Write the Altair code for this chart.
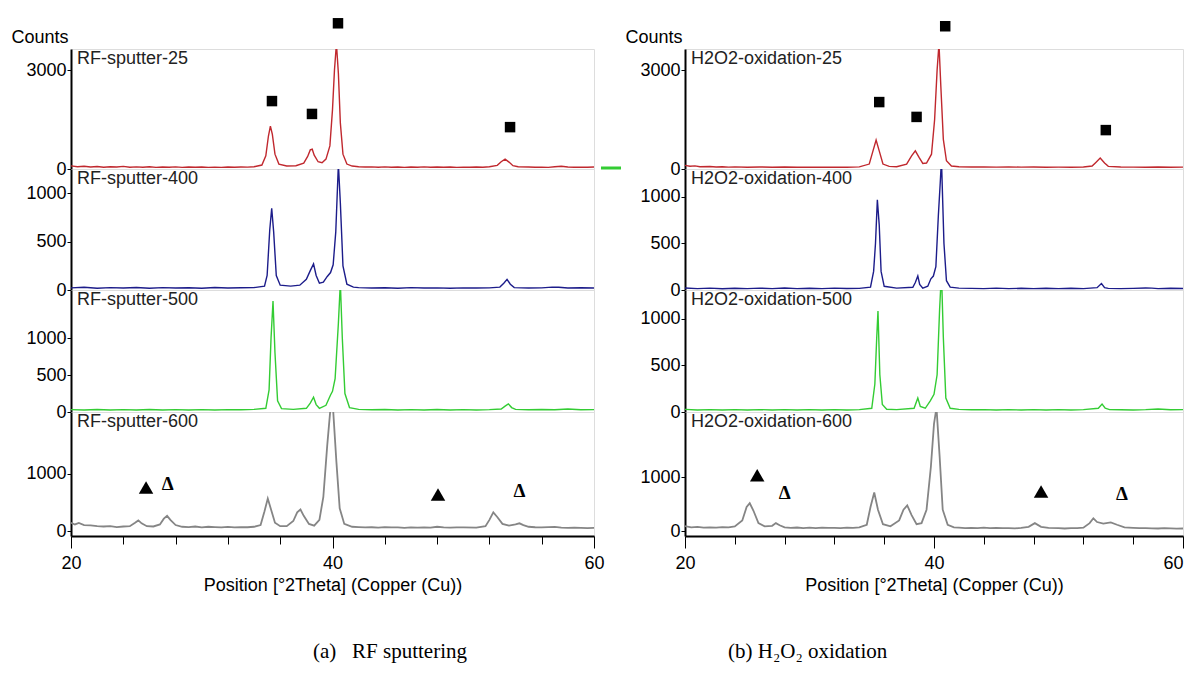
import altair as alt
import pandas as pd

# ---------------- data (x = 2Theta, y = counts) -------------
RF25 = [(20,95),(20.5,70),(21,85),(21.5,60),(22,75),(22.5,55),(23,70),(23.5,60),(24,80),(24.5,55),(25,65),(25.5,55),(26,70),(26.5,50),(27,60),(27.5,55),(28,65),(28.5,50),(29,60),(29.5,55),(30,60),(30.5,50),(31,58),(31.5,50),(32,60),(32.5,55),(33,60),(33.5,58),(34,70),(34.6,120),(34.9,400),(35.1,1000),(35.25,1300),(35.4,1050),(35.6,450),(35.9,150),(36.5,90),(37.2,100),(37.8,180),(38.1,380),(38.3,580),(38.45,600),(38.6,420),(38.9,220),(39.2,190),(39.5,300),(39.8,700),(40.0,1800),(40.15,3000),(40.3,3800),(40.45,2900),(40.6,1400),(40.8,450),(41.1,150),(41.5,90),(42,70),(42.5,60),(43,65),(43.5,55),(44,65),(44.5,55),(45,60),(45.5,50),(46,60),(46.5,55),(47,65),(47.5,55),(48,60),(48.5,55),(49,60),(49.5,50),(50,58),(50.5,52),(51,60),(51.5,55),(52,70),(52.6,110),(52.9,220),(53.2,300),(53.5,210),(53.8,100),(54.2,70),(55,60),(55.5,55),(56,58),(56.5,50),(57,70),(57.5,85),(58,60),(58.5,55),(59,58),(59.5,52),(60,60)]
RF400 = [(20,22),(21,28),(22,18),(23,25),(24,20),(25,26),(26,18),(27,25),(28,20),(29,24),(30,18),(31,26),(32,20),(33,24),(34,25),(34.8,40),(35.0,150),(35.2,620),(35.35,845),(35.5,600),(35.7,150),(36.0,50),(36.8,40),(37.5,50),(38.0,110),(38.3,200),(38.55,270),(38.75,150),(39.0,70),(39.3,80),(39.6,140),(39.85,180),(40.05,260),(40.25,600),(40.45,1300),(40.6,900),(40.8,250),(41.1,60),(41.6,30),(42,25),(43,20),(44,24),(45,18),(46,25),(47,20),(48,22),(49,18),(50,22),(51,20),(52,22),(52.8,30),(53.1,70),(53.35,110),(53.6,60),(53.9,25),(55,20),(56,22),(56.8,30),(57.3,28),(58,20),(59,24),(60,20)]
RF500 = [(20,32),(21,28),(22,34),(23,28),(24,32),(25,28),(26,33),(27,28),(28,32),(29,28),(30,32),(31,28),(32,32),(33,30),(34,35),(34.9,50),(35.15,300),(35.3,1000),(35.45,1500),(35.6,800),(35.8,150),(36.1,45),(37,35),(38.0,50),(38.3,120),(38.55,200),(38.75,100),(39.0,50),(39.5,90),(39.85,230),(40.0,280),(40.2,450),(40.45,1200),(40.6,1750),(40.75,1000),(40.95,250),(41.3,60),(42,35),(43,30),(44,34),(45,28),(46,32),(47,28),(48,33),(49,28),(50,32),(51,28),(52,32),(52.9,40),(53.2,80),(53.45,110),(53.7,60),(54,35),(55,30),(56,33),(57,30),(58,40),(59,30),(60,32)]
RF600 = [(20,150),(20.3,120),(20.6,145),(21,110),(21.5,105),(22,90),(22.5,85),(23,90),(23.5,75),(24,85),(24.5,90),(24.9,150),(25.15,190),(25.4,140),(25.8,90),(26.3,85),(26.8,120),(27.1,220),(27.35,270),(27.6,200),(28,110),(28.5,80),(29,75),(29.5,85),(30,70),(30.5,80),(31,75),(31.5,70),(32,78),(32.5,68),(33,75),(33.5,72),(34,80),(34.5,110),(34.8,350),(35.05,570),(35.3,380),(35.6,150),(36.0,90),(36.5,90),(37.0,180),(37.3,330),(37.55,380),(37.8,270),(38.2,130),(38.6,100),(39.0,200),(39.3,600),(39.6,1500),(39.85,2150),(40.05,2100),(40.3,1200),(40.55,400),(40.9,130),(41.5,80),(42,75),(42.5,68),(43,72),(43.5,65),(44,75),(44.5,70),(45,68),(45.5,62),(46,68),(46.5,65),(47,70),(47.5,65),(48,80),(48.5,68),(49,65),(49.5,70),(50,68),(51,65),(51.7,90),(52.0,200),(52.3,330),(52.6,250),(53.0,130),(53.5,100),(54.0,120),(54.3,140),(54.6,110),(55,80),(55.5,72),(56,70),(56.5,75),(57,78),(57.5,65),(58,60),(58.5,64),(59,62),(59.5,58),(60,60)]

H25 = [(20,110),(20.4,85),(20.8,95),(21.2,70),(22,75),(22.5,60),(23,70),(23.5,58),(24,65),(25,55),(26,62),(27,55),(28,60),(29,55),(30,58),(31,52),(32,58),(33,55),(34,65),(34.8,150),(35.1,550),(35.35,880),(35.6,550),(35.9,150),(36.4,80),(37,70),(37.8,150),(38.2,400),(38.5,550),(38.8,350),(39.1,170),(39.4,180),(39.8,450),(40.05,1500),(40.25,3000),(40.4,3800),(40.55,2500),(40.75,900),(41.0,250),(41.4,90),(42,70),(43,62),(44,65),(45,58),(46,62),(47,56),(48,60),(49,55),(50,58),(51,55),(52,60),(52.7,90),(53.0,200),(53.35,330),(53.7,180),(54,80),(55,60),(56,58),(57,55),(58,60),(59,55),(60,58)]
H400 = [(20,22),(21,15),(22,20),(23,14),(24,18),(25,15),(26,20),(27,15),(28,22),(29,15),(30,18),(31,15),(32,20),(33,16),(34,18),(34.9,30),(35.15,200),(35.3,500),(35.45,970),(35.6,700),(35.75,200),(36.0,40),(37,20),(38.3,30),(38.5,80),(38.7,150),(38.85,60),(39.1,20),(39.5,40),(39.75,120),(39.95,150),(40.15,250),(40.35,800),(40.5,1150),(40.6,1400),(40.8,500),(41.0,100),(41.3,30),(42,20),(43,18),(44,15),(45,20),(46,15),(47,18),(48,15),(49,18),(50,15),(51,18),(52,15),(53.1,25),(53.45,70),(53.7,25),(54,18),(55,15),(56,18),(57,22),(57.5,20),(58,15),(59,18),(60,16)]
H500 = [(20,28),(21,22),(22,26),(23,22),(24,25),(25,22),(26,26),(27,22),(28,25),(29,22),(30,26),(31,22),(32,25),(33,22),(34,25),(35.0,40),(35.25,300),(35.4,800),(35.5,1085),(35.65,400),(35.85,80),(36.2,30),(37,25),(38.4,40),(38.7,150),(38.9,60),(39.3,40),(39.7,120),(40.0,190),(40.25,400),(40.45,1100),(40.6,1500),(40.75,800),(40.95,150),(41.3,40),(42,28),(43,24),(44,26),(45,22),(46,25),(47,22),(48,26),(49,22),(50,25),(51,22),(52,25),(53.2,40),(53.5,85),(53.75,40),(54.1,25),(55,24),(56,22),(57,25),(58,32),(59,24),(60,25)]
H600 = [(20,95),(20.5,70),(21,80),(21.5,65),(22,72),(22.5,65),(23,75),(23.5,70),(24,90),(24.6,200),(24.95,450),(25.2,520),(25.5,380),(25.9,150),(26.4,90),(27.0,100),(27.3,150),(27.6,110),(28,70),(28.5,62),(29,68),(29.5,58),(30,65),(30.5,58),(31,65),(31.5,60),(32,62),(32.5,58),(33,66),(33.5,62),(34,70),(34.6,120),(34.9,450),(35.2,720),(35.5,400),(35.9,130),(36.5,90),(37.2,200),(37.55,400),(37.85,480),(38.2,300),(38.6,130),(39.0,150),(39.4,400),(39.75,1200),(40.0,2000),(40.2,2300),(40.45,1400),(40.7,400),(41.1,120),(41.6,70),(42,65),(42.5,58),(43,62),(43.5,56),(44,65),(44.5,58),(45,60),(45.5,55),(46,58),(46.5,52),(47,60),(47.6,80),(48.1,150),(48.6,80),(49.2,60),(50,55),(50.5,50),(51,58),(51.5,55),(52,65),(52.5,150),(52.8,240),(53.1,170),(53.6,140),(54.2,165),(54.7,120),(55.3,70),(56,60),(56.5,55),(57,58),(57.5,52),(58,50),(58.5,55),(59,52),(59.5,48),(60,50)]

# phase markers (x, counts in the panel's own scale)
LEFT_SQ = [(35.37, 2060), (38.43, 1670), (40.42, 4420), (53.58, 1270)]
LEFT_UP = [(25.74, 760), (48.07, 640)]
LEFT_DELTA = [(27.4, 830), (54.3, 700)]
RIGHT_SQ = [(35.6, 2030), (38.6, 1580), (40.9, 4330), (53.8, 1180)]
RIGHT_UP = [(25.8, 1040), (48.6, 740)]
RIGHT_DELTA = [(28.0, 720), (55.1, 700)]

LEFT_LABELS = ["RF-sputter-25", "RF-sputter-400", "RF-sputter-500", "RF-sputter-600"]
RIGHT_LABELS = ["H2O2-oxidation-25", "H2O2-oxidation-400", "H2O2-oxidation-500", "H2O2-oxidation-600"]
COLORS = ["#c0282e", "#1c1c8a", "#33cc33", "#858585"]
WIDTHS = [1.4, 1.4, 1.4, 1.8]
LEFT_DOMAINS = [(0, 3640), (0, 1250), (0, 1650), (-80, 2070)]
RIGHT_DOMAINS = [(0, 3640), (0, 1300), (0, 1310), (-90, 2220)]
Y_TICKS = [[0, 1000, 2000, 3000], [0, 500, 1000], [0, 500, 1000], [0, 1000]]
HEIGHTS = [120, 121, 122, 124]
X_TICKS = list(range(20, 61))
CAPTIONS = ["(a)\u00a0\u00a0\u00a0RF sputtering", "(b) H\u2082O\u2082 oxidation"]

SANS = "Liberation Sans"
SERIF = "Liberation Serif"
FS = 18
LEFT_W = 523
RIGHT_W = 498
GAP = 91


def df_of(pairs):
    return pd.DataFrame(pairs, columns=["x", "y"])


def panel(series, idx, label, domain, width, markers, caption, caption_x, dash, last_align):
    height = HEIGHTS[idx]
    xscale = alt.Scale(domain=[20, 60], nice=False)
    yscale = alt.Scale(domain=list(domain), nice=False, zero=False)
    bottom = idx == 3
    if bottom:
        xaxis = alt.Axis(values=X_TICKS,
                         labelExpr="datum.value % 10 === 0 ? datum.label : ''",
                         tickSize={"condition": {"test": "datum.value % 10 === 0", "value": 12}, "value": 8},
                         labelAlign={"condition": {"test": "datum.value === 60", "value": last_align}, "value": "center"},
                         tickColor="black", domainColor="black", domainWidth=2,
                         labelFontSize=FS, labelPadding=6, labelFlush=False,
                         title="Position [\u00b02Theta] (Copper (Cu))",
                         titleFontSize=FS, titleFontWeight="normal", titlePadding=4,
                         grid=False)
    else:
        xaxis = None
    yaxis_kw = dict(values=Y_TICKS[idx], format="d", tickSize=4, tickColor="black",
                    domainColor="black", domainWidth=2, labelFontSize=FS, labelPadding=1,
                    grid=False, labelOverlap=False)
    if idx == 0:
        yaxis = alt.Axis(title="Counts", titleAngle=0, titleAlign="left",
                         titleBaseline="alphabetic", titleX=-60, titleY=-7,
                         titleFontSize=FS, titleFontWeight="normal", **yaxis_kw)
    else:
        yaxis = alt.Axis(title=None, **yaxis_kw)

    line = alt.Chart(df_of(series)).mark_line(
        color=COLORS[idx], strokeWidth=WIDTHS[idx], clip=True
    ).encode(
        x=alt.X("x:Q", scale=xscale, axis=xaxis),
        y=alt.Y("y:Q", scale=yscale, axis=yaxis),
    )
    txt = alt.Chart(pd.DataFrame({"t": [label]})).mark_text(
        align="left", baseline="top", font=SANS, fontSize=FS, color="#222"
    ).encode(x=alt.value(6), y=alt.value(1), text="t:N")
    layers = [line, txt]

    if idx == 0:
        sq = alt.Chart(df_of(markers["sq"])).mark_point(
            shape="square", filled=True, size=110, color="black", opacity=1
        ).encode(x=alt.X("x:Q", scale=xscale), y=alt.Y("y:Q", scale=yscale))
        layers.append(sq)
        if dash:
            d = alt.Chart(pd.DataFrame({"y": [0]})).mark_rule(color="#33cc33", strokeWidth=3).encode(
                x=alt.value(width + 7), x2=alt.value(width + 27), y=alt.value(height - 1))
            layers.append(d)
    if bottom:
        up = alt.Chart(df_of(markers["up"])).mark_point(
            shape="triangle-up", filled=True, size=210, color="black", opacity=1
        ).encode(x=alt.X("x:Q", scale=xscale), y=alt.Y("y:Q", scale=yscale))
        dl = alt.Chart(df_of(markers["delta"]).assign(t="\u0394")).mark_text(
            font=SERIF, fontSize=19, fontWeight="bold", color="black"
        ).encode(x=alt.X("x:Q", scale=xscale), y=alt.Y("y:Q", scale=yscale), text="t:N")
        cap = alt.Chart(pd.DataFrame({"t": [caption]})).mark_text(
            align="left", baseline="middle", font=SERIF, fontSize=21, color="black"
        ).encode(x=alt.value(caption_x), y=alt.value(height + 116), text="t:N")
        layers += [up, dl, cap]

    return alt.layer(*layers).properties(width=width, height=height)


def column(seriess, labels, domains, width, markers, caption, caption_x, dash, last_align):
    panels = [panel(seriess[i], i, labels[i], domains[i], width, markers, caption,
                    caption_x, dash, last_align) for i in range(4)]
    return alt.vconcat(*panels, spacing=0, bounds="flush")


left = column([RF25, RF400, RF500, RF600], LEFT_LABELS, LEFT_DOMAINS, LEFT_W,
              {"sq": LEFT_SQ, "up": LEFT_UP, "delta": LEFT_DELTA}, CAPTIONS[0], 242, True, "center")
right = column([H25, H400, H500, H600], RIGHT_LABELS, RIGHT_DOMAINS, RIGHT_W,
               {"sq": RIGHT_SQ, "up": RIGHT_UP, "delta": RIGHT_DELTA}, CAPTIONS[1], 43, False, "right")

# with flush bounds the nested column counts as zero-width, so spacing spans the left plot too
chart = alt.hconcat(left, right, spacing=LEFT_W + GAP, bounds="flush").properties(
    padding={"left": 2, "top": 9, "right": 0, "bottom": 0}
).configure_view(stroke="black", strokeWidth=1.5).configure_axis(
    labelFont=SANS, titleFont=SANS, labelColor="#1a1a1a", titleColor="#1a1a1a"
).configure(background="white")

chart.save("out.html", embed_options={"renderer": "svg", "actions": False})
